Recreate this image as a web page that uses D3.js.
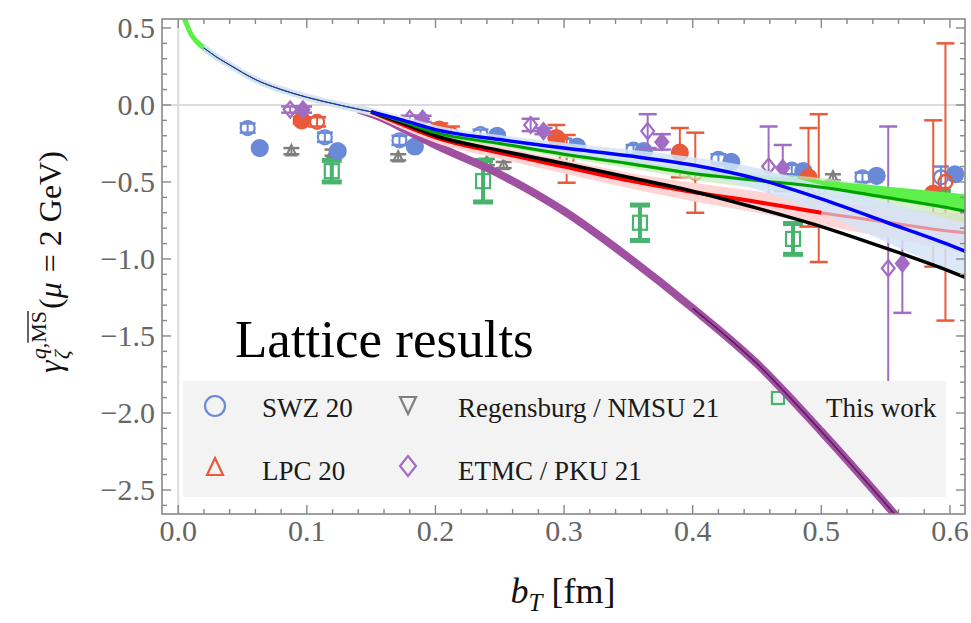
<!DOCTYPE html>
<html>
<head>
<meta charset="utf-8">
<script src="https://cdn.jsdelivr.net/npm/d3@7"></script>
<style>
  body { margin: 0; background: #fff; }
  svg { display: block; }
  text { font-family: "Liberation Serif", "DejaVu Serif", serif; white-space: pre; }
</style>
</head>
<body>
<svg id="chart" width="971" height="623"></svg>
<script>
// ---- data ----
// b_T grid for the curves (fm)
const bGrid = [0.003, 0.01, 0.02, 0.03, 0.04, 0.06, 0.08, 0.1, 0.125, 0.15,
               0.175, 0.2, 0.25, 0.3, 0.35, 0.4, 0.45, 0.5, 0.55, 0.6, 0.612];
// shared small-b part (up to 0.15)
const headVals = [0.60, 0.46, 0.37, 0.31, 0.26, 0.165, 0.10, 0.05, 0.0, -0.045];
const blueTail   = [-0.10, -0.16, -0.225, -0.28, -0.33, -0.39, -0.48, -0.61, -0.76, -0.91, -0.95];
const greenTail  = [-0.11, -0.18, -0.25, -0.32, -0.38, -0.445, -0.49, -0.535, -0.60, -0.67, -0.69];
const blackTail  = [-0.12, -0.20, -0.295, -0.38, -0.47, -0.56, -0.67, -0.79, -0.93, -1.08, -1.12];
const redTail    = [-0.13, -0.21, -0.31, -0.40, -0.49, -0.565, -0.63, -0.70, -0.76, -0.82, -0.83];
// purple curve from b = 0.14 on
const purpleB    = [0.14, 0.16, 0.18, 0.2, 0.25, 0.3, 0.35, 0.4, 0.45, 0.5, 0.55, 0.6, 0.612];
const purpleVals = [-0.03, -0.09, -0.175, -0.26, -0.45, -0.69, -0.99, -1.32, -1.68, -2.12, -2.59, -3.08, -3.2];
// band half widths on bGrid
const blueBandW  = [0.03, 0.03, 0.03, 0.028, 0.026, 0.025, 0.024, 0.024, 0.024, 0.025, 0.026,
                    0.028, 0.03, 0.035, 0.04, 0.05, 0.07, 0.09, 0.13, 0.17, 0.18];
const pinkBandW  = [0.02, 0.02, 0.02, 0.02, 0.02, 0.02, 0.02, 0.02, 0.02, 0.025, 0.03,
                    0.035, 0.04, 0.045, 0.05, 0.06, 0.07, 0.08, 0.10, 0.12, 0.13];
const limeUpper  = [0.02, 0.02, 0.015, 0.01, 0.01, 0.01, 0.01, 0.01, 0.01, 0.01, 0.01,
                    0.01, 0.01, 0.015, 0.02, 0.03, 0.035, 0.045, 0.07, 0.10, 0.11];
const paleGreenW = [0.02, 0.02, 0.02, 0.02, 0.02, 0.02, 0.02, 0.02, 0.02, 0.02, 0.02,
                    0.02, 0.02, 0.025, 0.03, 0.04, 0.05, 0.06, 0.07, 0.08, 0.08];

// lattice points: [b, value, error, filled]
const swz = [[0.054,-0.15,0.03,0],[0.0634,-0.28,0.02,1],[0.114,-0.21,0.03,0],[0.124,-0.30,0.02,1],
  [0.172,-0.23,0.03,0],[0.184,-0.27,0.02,1],[0.235,-0.19,0.03,0],[0.248,-0.20,0.02,1],
  [0.30,-0.25,0.03,0],[0.31,-0.27,0.02,1],[0.354,-0.29,0.03,0],[0.362,-0.30,0.02,1],
  [0.42,-0.35,0.03,0],[0.43,-0.37,0.02,1],[0.477,-0.42,0.03,0],[0.486,-0.43,0.02,1],
  [0.532,-0.47,0.03,0],[0.543,-0.46,0.02,1],[0.593,-0.47,0.07,0],[0.604,-0.45,0.03,1]];
const lpc = [[0.096,-0.10,0.02,1],[0.108,-0.11,0.03,0],[0.203,-0.16,0.04,1],[0.212,-0.19,0.05,0],
  [0.294,-0.215,0.085,1],[0.302,-0.35,0.155,0],[0.39,-0.31,0.16,1],[0.402,-0.44,0.26,0],
  [0.49,-0.47,0.32,1],[0.498,-0.54,0.48,0],[0.587,-0.575,0.475,1],[0.5965,-0.50,0.90,0]];
const regensburg = [[0.088,-0.30,0.02],[0.12,-0.31,0.02],[0.171,-0.34,0.02],
  [0.24,-0.37,0.02],[0.253,-0.39,0.02],[0.509,-0.47,0.02]];
const etmc = [[0.087,-0.03,0.02,0],[0.097,-0.03,0.02,1],[0.18,-0.09,0.02,0],[0.19,-0.09,0.02,1],
  [0.274,-0.13,0.04,0],[0.284,-0.17,0.02,1],[0.365,-0.17,0.11,0],[0.376,-0.24,0.05,1],
  [0.459,-0.40,0.26,0],[0.47,-0.41,0.15,1],[0.552,-1.06,0.92,0],[0.563,-1.03,0.32,1]];
const thisWork = [[0.1194,-0.43,0.07],[0.237,-0.495,0.135],[0.359,-0.765,0.115],
  [0.478,-0.87,0.10],[0.593,-0.60,0.04]];

const legendLabels = ["SWZ 20", "Regensburg / NMSU 21", "This work", "LPC 20", "ETMC / PKU 21"];
const xTicks = [0.0, 0.1, 0.2, 0.3, 0.4, 0.5, 0.6];
const yTicks = [0.5, 0.0, -0.5, -1.0, -1.5, -2.0, -2.5];

const C = {
  blue: "#6a8ad8", red: "#e85a3a", gray: "#7f7f7f", purple: "#a26cc4", green: "#46b46c"
};

// ---- setup ----
const svg = d3.select("#chart");
const L = 162, R = 965, T = 19, B = 514;
const x = d3.scaleLinear().domain([-0.0126, 0.6117]).range([L, R]);
const y = d3.scaleLinear().domain([0.558, -2.656]).range([T, B]);

svg.append("clipPath").attr("id", "plot")
  .append("rect").attr("x", L).attr("y", T).attr("width", R - L).attr("height", B - T);

// zero lines
svg.append("line").attr("x1", L).attr("x2", R).attr("y1", y(0)).attr("y2", y(0))
  .attr("stroke", "#dcdcdc").attr("stroke-width", 2);
svg.append("line").attr("x1", x(0)).attr("x2", x(0)).attr("y1", T).attr("y2", B)
  .attr("stroke", "#dcdcdc").attr("stroke-width", 2);

const plot = svg.append("g").attr("clip-path", "url(#plot)");

// ---- points ----
function errBar(g, b, v, e, color, w, capW, capS) {
  g.append("line").attr("x1", x(b)).attr("x2", x(b)).attr("y1", y(v + e)).attr("y2", y(v - e))
    .attr("stroke", color).attr("stroke-width", w);
  [v + e, v - e].forEach(function(c) {
    g.append("line").attr("x1", x(b) - capW).attr("x2", x(b) + capW).attr("y1", y(c)).attr("y2", y(c))
      .attr("stroke", color).attr("stroke-width", capS);
  });
}

function marker(g, type, cx, cy, color, filled, s) {
  var p;
  if (type === "circle") {
    p = g.append("circle").attr("cx", cx).attr("cy", cy).attr("r", s);
  } else if (type === "tri") {
    p = g.append("path").attr("d", `M${cx},${cy - s}L${cx + s * 0.8},${cy + s * 0.7}L${cx - s * 0.8},${cy + s * 0.7}Z`);
  } else if (type === "triDown") {
    p = g.append("path").attr("d", `M${cx},${cy + s}L${cx + s * 0.8},${cy - s * 0.7}L${cx - s * 0.8},${cy - s * 0.7}Z`);
  } else if (type === "diamond") {
    p = g.append("path").attr("d", `M${cx},${cy - s}L${cx + s * 0.8},${cy}L${cx},${cy + s}L${cx - s * 0.8},${cy}Z`);
  } else {
    p = g.append("rect").attr("x", cx - s).attr("y", cy - s).attr("width", 2 * s).attr("height", 2 * s);
  }
  p.attr("fill", filled ? color : "none").attr("stroke", color).attr("stroke-width", 2.2);
}

const pts = plot.append("g");
regensburg.forEach(function(d) {
  errBar(pts, d[0], d[1], d[2], C.gray, 2, 8, 2.5);
  marker(pts, "tri", x(d[0]), y(d[1]), C.gray, 0, 6);
});
thisWork.forEach(function(d) {
  errBar(pts, d[0], d[1], d[2], C.green, 4, 10, 5);
  marker(pts, "square", x(d[0]), y(d[1]), C.green, 0, 7);
});
swz.forEach(function(d) {
  errBar(pts, d[0], d[1], d[2], C.blue, 2, 8, 2.5);
  marker(pts, "circle", x(d[0]), y(d[1]), C.blue, d[3], d[3] ? 8 : 7);
});
lpc.forEach(function(d) {
  errBar(pts, d[0], d[1], d[2], C.red, 2, 9, 2.5);
  marker(pts, "circle", x(d[0]), y(d[1]), C.red, d[3], d[3] ? 8 : 7);
});
etmc.forEach(function(d) {
  errBar(pts, d[0], d[1], d[2], C.purple, 2, 9, 2.5);
  marker(pts, "diamond", x(d[0]), y(d[1]), C.purple, d[3], 8);
});

// ---- legend ----
const lg = svg.append("g");
lg.append("rect").attr("x", 183).attr("y", 381).attr("width", 763).attr("height", 116).attr("fill", "#f3f3f3");
const legendPos = [[215, 406, "circle", C.blue], [408, 404, "triDown", C.gray], [778, 398, "square", C.green],
                   [215, 468, "tri", C.red], [408, 466, "diamond", C.purple]];
const legendTextX = [262, 458, 826, 262, 458];
const legendTextY = [417, 417, 417, 480, 480];
legendLabels.forEach(function(lab, i) {
  var lp = legendPos[i];
  marker(lg, lp[2], lp[0], lp[1], lp[3], 0, lp[2] === "square" ? 6 : 10);
  lg.append("text").attr("x", legendTextX[i]).attr("y", legendTextY[i])
    .attr("font-size", 27).attr("fill", "#1a1a1a").text(lab);
});

svg.append("text").attr("x", 235).attr("y", 357).attr("font-size", 53).attr("fill", "#000")
  .text("Lattice results");

// ---- curves ----
function series(tail) { return headVals.concat(tail); }
const blueV = series(blueTail), greenV = series(greenTail), blackV = series(blackTail),
      redV = series(redTail);

const line = d3.line().x(function(d) { return x(d[0]); }).y(function(d) { return y(d[1]); })
  .curve(d3.curveMonotoneX);
const area = d3.area().x(function(d) { return x(d[0]); })
  .y0(function(d) { return y(d[1]); }).y1(function(d) { return y(d[2]); })
  .curve(d3.curveMonotoneX);

function pairs(vals, from, to) {
  var out = [];
  bGrid.forEach(function(b, i) { if (i >= from && b <= to) out.push([b, vals[i]]); });
  return out;
}
function band(vals, lo, hi, from) {
  var out = [];
  bGrid.forEach(function(b, i) { if (i >= from) out.push([b, vals[i] - lo[i], vals[i] + hi[i]]); });
  return out;
}
function stroke(g, d, color, w, op) {
  return g.append("path").attr("d", d).attr("fill", "none").attr("stroke", color)
    .attr("stroke-width", w).attr("opacity", op || 1).attr("stroke-linejoin", "round");
}

const cg = svg.append("g").attr("clip-path", "url(#plot)");
// purple curve goes under the other bands
const purplePts = purpleB.map(function(b, i) { return [b, purpleVals[i]]; });
stroke(cg, line(purplePts), "#a050a0", 8);
stroke(cg, line(purplePts.filter(function(d) { return d[0] >= 0.4; })), "#4a0a4a", 1.6, 0.75);

// bands
cg.append("path").attr("d", area(band(redV, pinkBandW, pinkBandW, 2))).attr("fill", "#ffd4d4");
cg.append("path").attr("d", area(band(greenV, paleGreenW, paleGreenW, 9))).attr("fill", "#c4ebb6").attr("opacity", 0.7);
cg.append("path").attr("d", area(band(greenV, limeUpper.map(function() { return 0.012; }), limeUpper, 0)))
  .attr("fill", "#5ef04a");
stroke(cg, line(pairs(greenV, 0, 0.03)), "#5ef04a", 5);
cg.append("path").attr("d", area(band(blueV, blueBandW, blueBandW, 2))).attr("fill", "#d4e4f7").attr("opacity", 0.85);

// thin outlines of the converged curves at small b
stroke(cg, line(pairs(blackV, 2, 0.16)), "#333", 1);
stroke(cg, line(pairs(blueV, 2, 0.16)), "#2030c0", 1);

// lines
stroke(cg, line(pairs(redV, 9, 1)), "#e8939a", 3);
stroke(cg, line(pairs(redV, 9, 0.5)), "#ff0000", 4);
stroke(cg, line(pairs(blackV, 9, 1)), "#000", 3.5);
stroke(cg, line(pairs(greenV, 9, 1)), "#00a000", 3);
stroke(cg, line(pairs(blueV, 9, 1)), "#0000ff", 3.5);

// ---- frame and ticks ----
const frameColor = "#888";
svg.append("rect").attr("x", L).attr("y", T).attr("width", R - L).attr("height", B - T)
  .attr("fill", "none").attr("stroke", frameColor).attr("stroke-width", 1.6);

const xMinor = d3.range(0, 0.6101, 0.02);
const yMinor = d3.range(-2.6, 0.5501, 0.1);
const tk = svg.append("g").attr("stroke", frameColor).attr("stroke-width", 1.4);
xMinor.forEach(function(v) {
  var major = Math.abs(v * 10 - Math.round(v * 10)) < 1e-6;
  var len = major ? 9 : 5;
  tk.append("line").attr("x1", x(v)).attr("x2", x(v)).attr("y1", B).attr("y2", B - len);
  tk.append("line").attr("x1", x(v)).attr("x2", x(v)).attr("y1", T).attr("y2", T + len);
});
yMinor.forEach(function(v) {
  var major = Math.abs(v * 2 - Math.round(v * 2)) < 1e-6;
  var len = major ? 9 : 5;
  tk.append("line").attr("x1", L).attr("x2", L + len).attr("y1", y(v)).attr("y2", y(v));
  tk.append("line").attr("x1", R).attr("x2", R - len).attr("y1", y(v)).attr("y2", y(v));
});

const fmt = d3.format(".1f");
svg.append("g").selectAll("text").data(xTicks).enter().append("text")
  .attr("x", function(d) { return x(d); }).attr("y", 541)
  .attr("text-anchor", "middle").attr("font-size", 30).attr("fill", "#666")
  .text(function(d) { return fmt(d); });
svg.append("g").selectAll("text").data(yTicks).enter().append("text")
  .attr("x", 155).attr("y", function(d) { return y(d) + 10; })
  .attr("text-anchor", "end").attr("font-size", 30).attr("fill", "#666")
  .text(function(d) { return fmt(d).replace("-", "\u2212"); });

// x title
const xt = svg.append("text").attr("x", 563).attr("y", 603).attr("text-anchor", "middle")
  .attr("font-size", 36).attr("fill", "#111");
xt.append("tspan").attr("font-style", "italic").text("b");
xt.append("tspan").attr("font-style", "italic").attr("font-size", 25).attr("dy", 8).text("T");
xt.append("tspan").attr("dy", -8).text("\u00a0[fm]");

// y title, built piece by piece along a rotated baseline
const yt = svg.append("g").attr("transform", "translate(61,262) rotate(-90)");
const fs = 32, small = 22;
var cx = 0;
function piece(str, size, italic, dy) {
  return yt.append("text").attr("x", cx).attr("y", dy).attr("font-size", size).attr("fill", "#111")
    .attr("font-style", italic ? "italic" : "normal").text(str);
}
var g1 = piece("\u03b3", fs, true, 0); cx += g1.node().getComputedTextLength() + 1;
var sub = piece("\u03b6", small, true, 8);
var sup1 = piece("q,", small, true, -15);
var w1 = sup1.node().getComputedTextLength();
var start = cx;
cx += w1;
var ms = piece("MS", small, false, -15);
var wms = ms.node().getComputedTextLength();
yt.append("line").attr("x1", cx).attr("x2", cx + wms).attr("y1", -33).attr("y2", -33)
  .attr("stroke", "#111").attr("stroke-width", 1.3);
cx = start + Math.max(w1 + wms, sub.node().getComputedTextLength()) + 2;
var p1 = piece("(", fs, false, 0); cx += p1.node().getComputedTextLength();
var mu = piece("\u03bc", fs, true, 0); cx += mu.node().getComputedTextLength() + 2;
var rest = piece("\u00a0=\u00a02\u00a0GeV)", fs, false, 0); cx += rest.node().getComputedTextLength();
// center the group
yt.selectAll("text").attr("x", function() { return +d3.select(this).attr("x") - cx / 2; });
yt.selectAll("line").attr("x1", function() { return +d3.select(this).attr("x1") - cx / 2; })
  .attr("x2", function() { return +d3.select(this).attr("x2") - cx / 2; });
</script>
</body>
</html>
